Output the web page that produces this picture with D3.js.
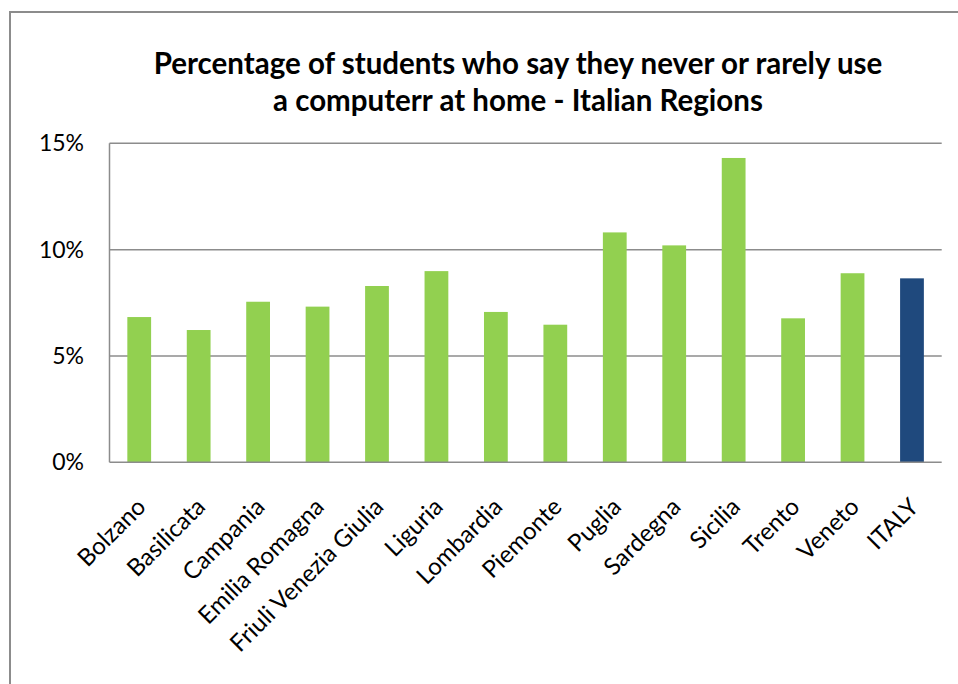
<!DOCTYPE html>
<html>
<head>
<meta charset="utf-8">
<script src="https://cdn.jsdelivr.net/npm/d3@7"></script>
<style>
  html, body { margin: 0; padding: 0; background: #fff; }
  svg { display: block; }
  text { font-family: Lato, "Open Sans", sans-serif; fill: #000; }
</style>
</head>
<body>
<svg id="chart" width="958" height="684"></svg>
<script>
// Regional share of students who never or rarely use a computer at home
const regions = ["Bolzano", "Basilicata", "Campania", "Emilia Romagna", "Friuli Venezia Giulia",
  "Liguria", "Lombardia", "Piemonte", "Puglia", "Sardegna", "Sicilia", "Trento", "Veneto", "ITALY"];
const shares = [6.83, 6.22, 7.55, 7.32, 8.29, 8.99, 7.07, 6.47, 10.81, 10.2, 14.31, 6.77, 8.89, 8.65];
const yTicks = [0, 5, 10, 15];
const titleLines = ["Percentage of students who say they never or rarely use",
  "a computerr at home - Italian Regions"];

const svg = d3.select("#chart");
const plot = { left: 109.5, right: 941.7, top: 143.3, bottom: 462.3 };

// outer chart frame
svg.append("path")
  .attr("d", "M10,684 L10,12 L958,12")
  .attr("fill", "none").attr("stroke", "#8c8c8c").attr("stroke-width", 2);

const x = d3.scaleBand().domain(regions).range([plot.left, plot.right]).paddingInner(0.6).paddingOuter(0.3);
const y = d3.scaleLinear().domain([0, 15]).range([plot.bottom, plot.top]);

// horizontal gridlines
svg.append("g").selectAll("line").data(yTicks.filter(d => d > 0)).join("line")
  .attr("x1", plot.left).attr("x2", plot.right)
  .attr("y1", d => y(d)).attr("y2", d => y(d))
  .attr("stroke", "#8c8c8c").attr("stroke-width", 1.5);

// bars
svg.append("g").selectAll("rect").data(regions).join("rect")
  .attr("x", d => x(d))
  .attr("width", x.bandwidth())
  .attr("y", (d, i) => y(shares[i]))
  .attr("height", (d, i) => y(0) - y(shares[i]))
  .attr("fill", d => d === "ITALY" ? "#1F497D" : "#92D050");

// axis lines
svg.append("line").attr("x1", plot.left).attr("x2", plot.left)
  .attr("y1", plot.top).attr("y2", plot.bottom)
  .attr("stroke", "#8c8c8c").attr("stroke-width", 1.5);
svg.append("line").attr("x1", plot.left).attr("x2", plot.right)
  .attr("y1", plot.bottom).attr("y2", plot.bottom)
  .attr("stroke", "#8c8c8c").attr("stroke-width", 1.5);

// y tick labels
svg.append("g").selectAll("text").data(yTicks).join("text")
  .attr("x", 84).attr("y", d => y(d))
  .attr("dy", "0.35em")
  .attr("text-anchor", "end")
  .attr("font-size", 23)
  .attr("fill", "#1a1a1a")
  .text(d => d + "%");

// category labels, rotated
svg.append("g").selectAll("text").data(regions).join("text")
  .attr("transform", d => `translate(${x(d) + x.bandwidth() / 2 + 8},${plot.bottom + 46}) rotate(-45)`)
  .attr("text-anchor", "end")
  .attr("font-size", 24)
  .text(d => d);

// title
svg.append("g").selectAll("text").data(titleLines).join("text")
  .attr("x", 518).attr("y", (d, i) => 74 + i * 37)
  .attr("text-anchor", "middle")
  .attr("font-size", 29.5)
  .attr("font-weight", "bold")
  .text(d => d);
</script>
</body>
</html>
